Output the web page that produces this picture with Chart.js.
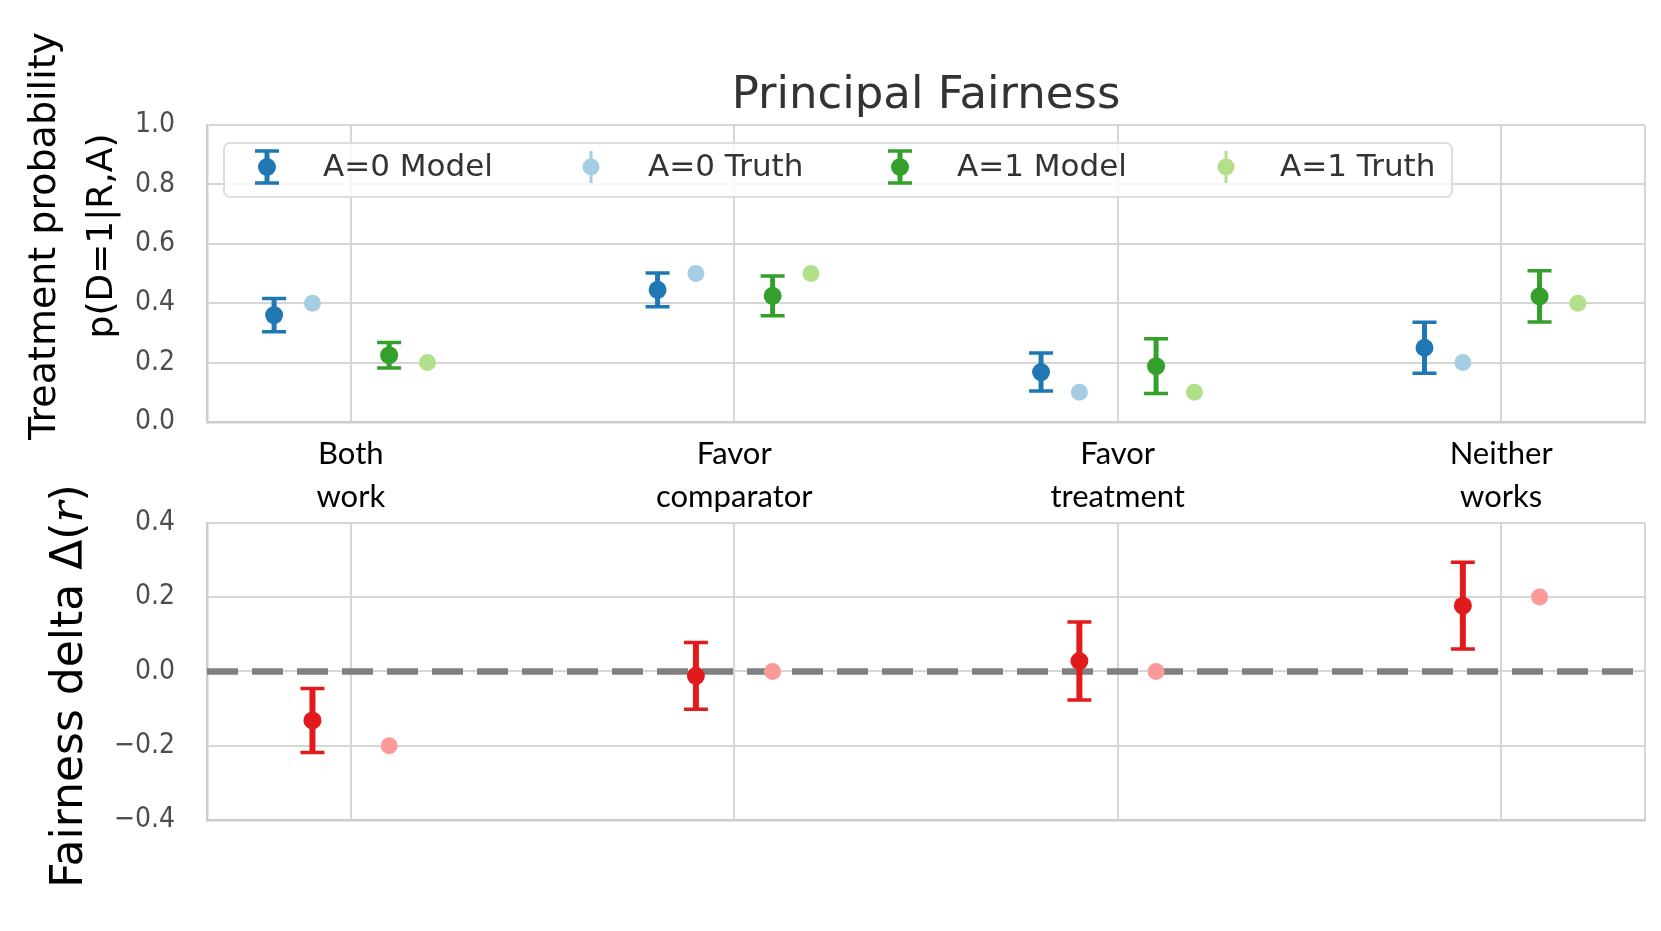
<!DOCTYPE html>
<html>
<head>
<meta charset="utf-8">
<title>Principal Fairness</title>
<script src="https://cdn.jsdelivr.net/npm/chart.js@4.4.1/dist/chart.umd.min.js"></script>
<style>
    html, body { margin: 0; padding: 0; background: #fff; }
    #wrap { position: relative; width: 1661px; height: 931px; overflow: hidden; }
    #wrap canvas { position: absolute; left: 0; }
    #topChart { top: 0; }
    #bottomChart { top: 474px; }
</style>
</head>
<body>
<div id="wrap">
    <canvas id="topChart" width="1661" height="520"></canvas>
    <canvas id="bottomChart" width="1661" height="457"></canvas>
</div>
<script>
// --- data ---
const categories = [['Both', 'work'], ['Favor', 'comparator'], ['Favor', 'treatment'], ['Neither', 'works']];
const seriesLabels = ['A=0 Model', 'A=0 Truth', 'A=1 Model', 'A=1 Truth'];

const a0Model    = [0.360, 0.445, 0.168, 0.250];
const a0ModelErr = [0.056, 0.057, 0.064, 0.086];
const a0Truth    = [0.40, 0.50, 0.10, 0.20];
const a1Model    = [0.225, 0.425, 0.188, 0.423];
const a1ModelErr = [0.043, 0.067, 0.092, 0.086];
const a1Truth    = [0.20, 0.50, 0.10, 0.40];

const deltaModel    = [-0.132, -0.012, 0.028, 0.177];
const deltaModelErr = [0.086, 0.090, 0.105, 0.117];
const deltaTruth    = [-0.20, 0.00, 0.00, 0.20];

const probTicks  = [0, 0.2, 0.4, 0.6, 0.8, 1.0];
const deltaTicks = [-0.4, -0.2, 0, 0.2, 0.4];

// --- styling ---
const COLORS = {
    a0Model: '#1f78b4', a0Truth: '#a6cee3',
    a1Model: '#33a02c', a1Truth: '#b2df8a',
    dModel: '#e31a1c', dTruth: '#fb9a99'
};
const X_MIN = -0.375, X_MAX = 3.375;
const DODGE = { a0Model: -0.2, a0Truth: -0.1, a1Model: 0.1, a1Truth: 0.2, dModel: -0.1, dTruth: 0.1 };
const GRID = '#d6d6d6';
const FRAME = '#cdcdcd';
const TICK_FONT = { family: "'DejaVu Sans Condensed', 'DejaVu Sans', sans-serif", size: 28 };

function place(values, shift) {
    return values.map((v, i) => ({ x: i + shift, y: v }));
}

function xTickValues() {
    return [X_MIN].concat(categories.map((c, i) => i), [X_MAX]);
}

// error bars drawn right before their own points
const errorBarPlugin = {
    id: 'errorBars',
    beforeDatasetDraw(chart, args) {
        const ds = chart.data.datasets[args.index];
        if (!ds.yErr) return;
        const ctx = chart.ctx;
        const xs = chart.scales.x, ys = chart.scales.y;
        ctx.save();
        ctx.strokeStyle = ds.borderColor;
        ds.data.forEach((pt, i) => {
            const px = xs.getPixelForValue(pt.x);
            const top = ys.getPixelForValue(pt.y + ds.yErr[i]);
            const bot = ys.getPixelForValue(pt.y - ds.yErr[i]);
            ctx.lineWidth = ds.errWidth;
            ctx.beginPath();
            ctx.moveTo(px, top);
            ctx.lineTo(px, bot);
            ctx.stroke();
            ctx.lineWidth = 3.5;
            ctx.beginPath();
            ctx.moveTo(px - ds.capSize, top);
            ctx.lineTo(px + ds.capSize, top);
            ctx.moveTo(px - ds.capSize, bot);
            ctx.lineTo(px + ds.capSize, bot);
            ctx.stroke();
        });
        ctx.restore();
    }
};

// rotated axis titles, allowing mixed fonts in one line
const sideTitlePlugin = {
    id: 'sideTitle',
    afterDraw(chart, args, opts) {
        if (!opts.lines) return;
        const ctx = chart.ctx;
        opts.lines.forEach(line => {
            ctx.save();
            ctx.translate(line.x, line.y);
            ctx.rotate(-Math.PI / 2);
            ctx.fillStyle = opts.color || '#000';
            ctx.textBaseline = 'middle';
            ctx.textAlign = 'left';
            let total = 0;
            const widths = line.runs.map(r => {
                ctx.font = r.font;
                const w = ctx.measureText(r.text).width;
                total += w;
                return w;
            });
            let cx = -total / 2;
            line.runs.forEach((r, i) => {
                ctx.font = r.font;
                ctx.fillText(r.text, cx, 0);
                cx += widths[i];
            });
            ctx.restore();
        });
    }
};

// legend box sitting inside the plot, like matplotlib's
const innerLegendPlugin = {
    id: 'innerLegend',
    afterDraw(chart, args, opts) {
        if (!opts.box) return;
        const ctx = chart.ctx;
        const b = opts.box;
        ctx.save();
        ctx.beginPath();
        ctx.roundRect(b.left, b.top, b.right - b.left, b.bottom - b.top, 6);
        ctx.fillStyle = 'rgba(255,255,255,0.8)';
        ctx.fill();
        ctx.lineWidth = 2;
        ctx.strokeStyle = '#dedede';
        ctx.stroke();

        const cy = (b.top + b.bottom) / 2 - 3;
        chart.data.datasets.forEach((ds, i) => {
            const mx = opts.markerX[i];
            ctx.strokeStyle = ds.borderColor;
            if (ds.yErr) {
                ctx.lineWidth = ds.errWidth;
                ctx.beginPath();
                ctx.moveTo(mx, cy - 16);
                ctx.lineTo(mx, cy + 16);
                ctx.stroke();
                ctx.lineWidth = 3.5;
                ctx.beginPath();
                ctx.moveTo(mx - ds.capSize, cy - 16);
                ctx.lineTo(mx + ds.capSize, cy - 16);
                ctx.moveTo(mx - ds.capSize, cy + 16);
                ctx.lineTo(mx + ds.capSize, cy + 16);
                ctx.stroke();
            } else {
                ctx.lineWidth = 3;
                ctx.beginPath();
                ctx.moveTo(mx, cy - 16);
                ctx.lineTo(mx, cy + 16);
                ctx.stroke();
            }
            ctx.fillStyle = ds.backgroundColor;
            ctx.beginPath();
            ctx.arc(mx, cy, ds.pointRadius, 0, Math.PI * 2);
            ctx.fill();

            ctx.fillStyle = '#333';
            ctx.font = "31px 'DejaVu Sans', sans-serif";
            ctx.textBaseline = 'middle';
            ctx.textAlign = 'left';
            ctx.fillText(ds.label, opts.textX[i], cy + 1);
        });
        ctx.restore();
    }
};

function modelSet(label, values, errs, shift, color) {
    return {
        label: label, data: place(values, shift), yErr: errs,
        borderColor: color, backgroundColor: color,
        pointRadius: 9, pointBorderWidth: 0, errWidth: 5, capSize: 12, order: 0
    };
}

function truthSet(label, values, shift, color) {
    return {
        label: label, data: place(values, shift),
        borderColor: color, backgroundColor: color,
        pointRadius: 8.5, pointBorderWidth: 0, order: 0
    };
}

const topChart = new Chart(document.getElementById('topChart'), {
    type: 'scatter',
    data: {
        datasets: [
            modelSet(seriesLabels[0], a0Model, a0ModelErr, DODGE.a0Model, COLORS.a0Model),
            truthSet(seriesLabels[1], a0Truth, DODGE.a0Truth, COLORS.a0Truth),
            modelSet(seriesLabels[2], a1Model, a1ModelErr, DODGE.a1Model, COLORS.a1Model),
            truthSet(seriesLabels[3], a1Truth, DODGE.a1Truth, COLORS.a1Truth)
        ]
    },
    options: {
        responsive: false,
        animation: false,
        devicePixelRatio: 1,
        layout: { padding: { left: 0, right: 16, top: 0, bottom: 0 } },
        plugins: {
            legend: { display: false },
            tooltip: { enabled: false },
            title: {
                display: true,
                text: 'Principal Fairness',
                fullSize: false,
                color: '#333',
                font: { family: "'DejaVu Sans', sans-serif", size: 45, weight: 'normal', lineHeight: 1.2 },
                padding: { top: 69, bottom: 2 }
            },
            sideTitle: {
                color: '#000',
                lines: [
                    { x: 45, y: 236, runs: [{ text: 'Treatment probability', font: "38px 'DejaVu Sans', sans-serif" }] },
                    { x: 103, y: 236, runs: [{ text: 'p(D=1|R,A)', font: "36px 'DejaVu Sans', sans-serif" }] }
                ]
            },
            innerLegend: {
                box: { left: 224, top: 143, right: 1452, bottom: 197 },
                markerX: [267, 591, 900, 1226],
                textX: [323, 648, 957, 1280]
            }
        },
        scales: {
            x: {
                type: 'linear',
                min: X_MIN,
                max: X_MAX,
                afterBuildTicks: s => { s.ticks = xTickValues().map(v => ({ value: v })); },
                afterFit: s => { s.height = 98; },
                ticks: {
                    autoSkip: false,
                    maxRotation: 0,
                    padding: 10,
                    color: '#000',
                    font: { family: "Lato, 'Open Sans', sans-serif", size: 31, lineHeight: 43 / 31 },
                    callback: v => Number.isInteger(v) ? categories[v] : ''
                },
                grid: { color: GRID, lineWidth: 2, drawTicks: false },
                border: { color: FRAME, width: 2.5 }
            },
            y: {
                min: 0,
                max: 1,
                afterBuildTicks: s => { s.ticks = probTicks.map(v => ({ value: v })); },
                afterFit: s => { s.width = 207; },
                ticks: {
                    padding: 32,
                    color: '#4d4d4d',
                    font: TICK_FONT,
                    callback: v => v.toFixed(1)
                },
                grid: { color: GRID, lineWidth: 2, drawTicks: false },
                border: { color: FRAME, width: 2.5 }
            }
        }
    },
    plugins: [errorBarPlugin, sideTitlePlugin, innerLegendPlugin]
});

const bottomChart = new Chart(document.getElementById('bottomChart'), {
    type: 'scatter',
    data: {
        datasets: [
            {
                type: 'line',
                label: 'zero',
                data: [{ x: X_MIN, y: 0 }, { x: X_MAX, y: 0 }],
                borderColor: '#808080',
                borderWidth: 6.5,
                borderDash: [31, 14],
                pointRadius: 0,
                order: 10
            },
            Object.assign(modelSet('Delta Model', deltaModel, deltaModelErr, DODGE.dModel, COLORS.dModel), { errWidth: 6, capSize: 12 }),
            truthSet('Delta Truth', deltaTruth, DODGE.dTruth, COLORS.dTruth)
        ]
    },
    options: {
        responsive: false,
        animation: false,
        devicePixelRatio: 1,
        // the y tick padding already reserves 48px above the plot
        layout: { padding: { left: 0, right: 16, top: 0, bottom: 0 } },
        plugins: {
            legend: { display: false },
            tooltip: { enabled: false },
            sideTitle: {
                color: '#000',
                lines: [
                    {
                        x: 71, y: 212, runs: [
                            { text: 'Fairness delta \u0394(', font: "44px 'DejaVu Sans', sans-serif" },
                            { text: 'r', font: "italic 44px 'DejaVu Serif', serif" },
                            { text: ')', font: "44px 'DejaVu Sans', sans-serif" }
                        ]
                    }
                ]
            }
        },
        scales: {
            x: {
                type: 'linear',
                min: X_MIN,
                max: X_MAX,
                afterBuildTicks: s => { s.ticks = xTickValues().map(v => ({ value: v })); },
                afterFit: s => { s.height = 111; },
                ticks: { display: false },
                grid: { color: GRID, lineWidth: 2, drawTicks: false },
                border: { color: FRAME, width: 2.5 }
            },
            y: {
                min: -0.4,
                max: 0.4,
                afterBuildTicks: s => { s.ticks = deltaTicks.map(v => ({ value: v })); },
                afterFit: s => { s.width = 207; },
                ticks: {
                    padding: 32,
                    color: '#4d4d4d',
                    font: TICK_FONT,
                    callback: v => v.toFixed(1).replace('-', '\u2212')
                },
                grid: { color: GRID, lineWidth: 2, drawTicks: false },
                border: { color: FRAME, width: 2.5 }
            }
        }
    },
    plugins: [errorBarPlugin, sideTitlePlugin]
});
</script>
</body>
</html>
